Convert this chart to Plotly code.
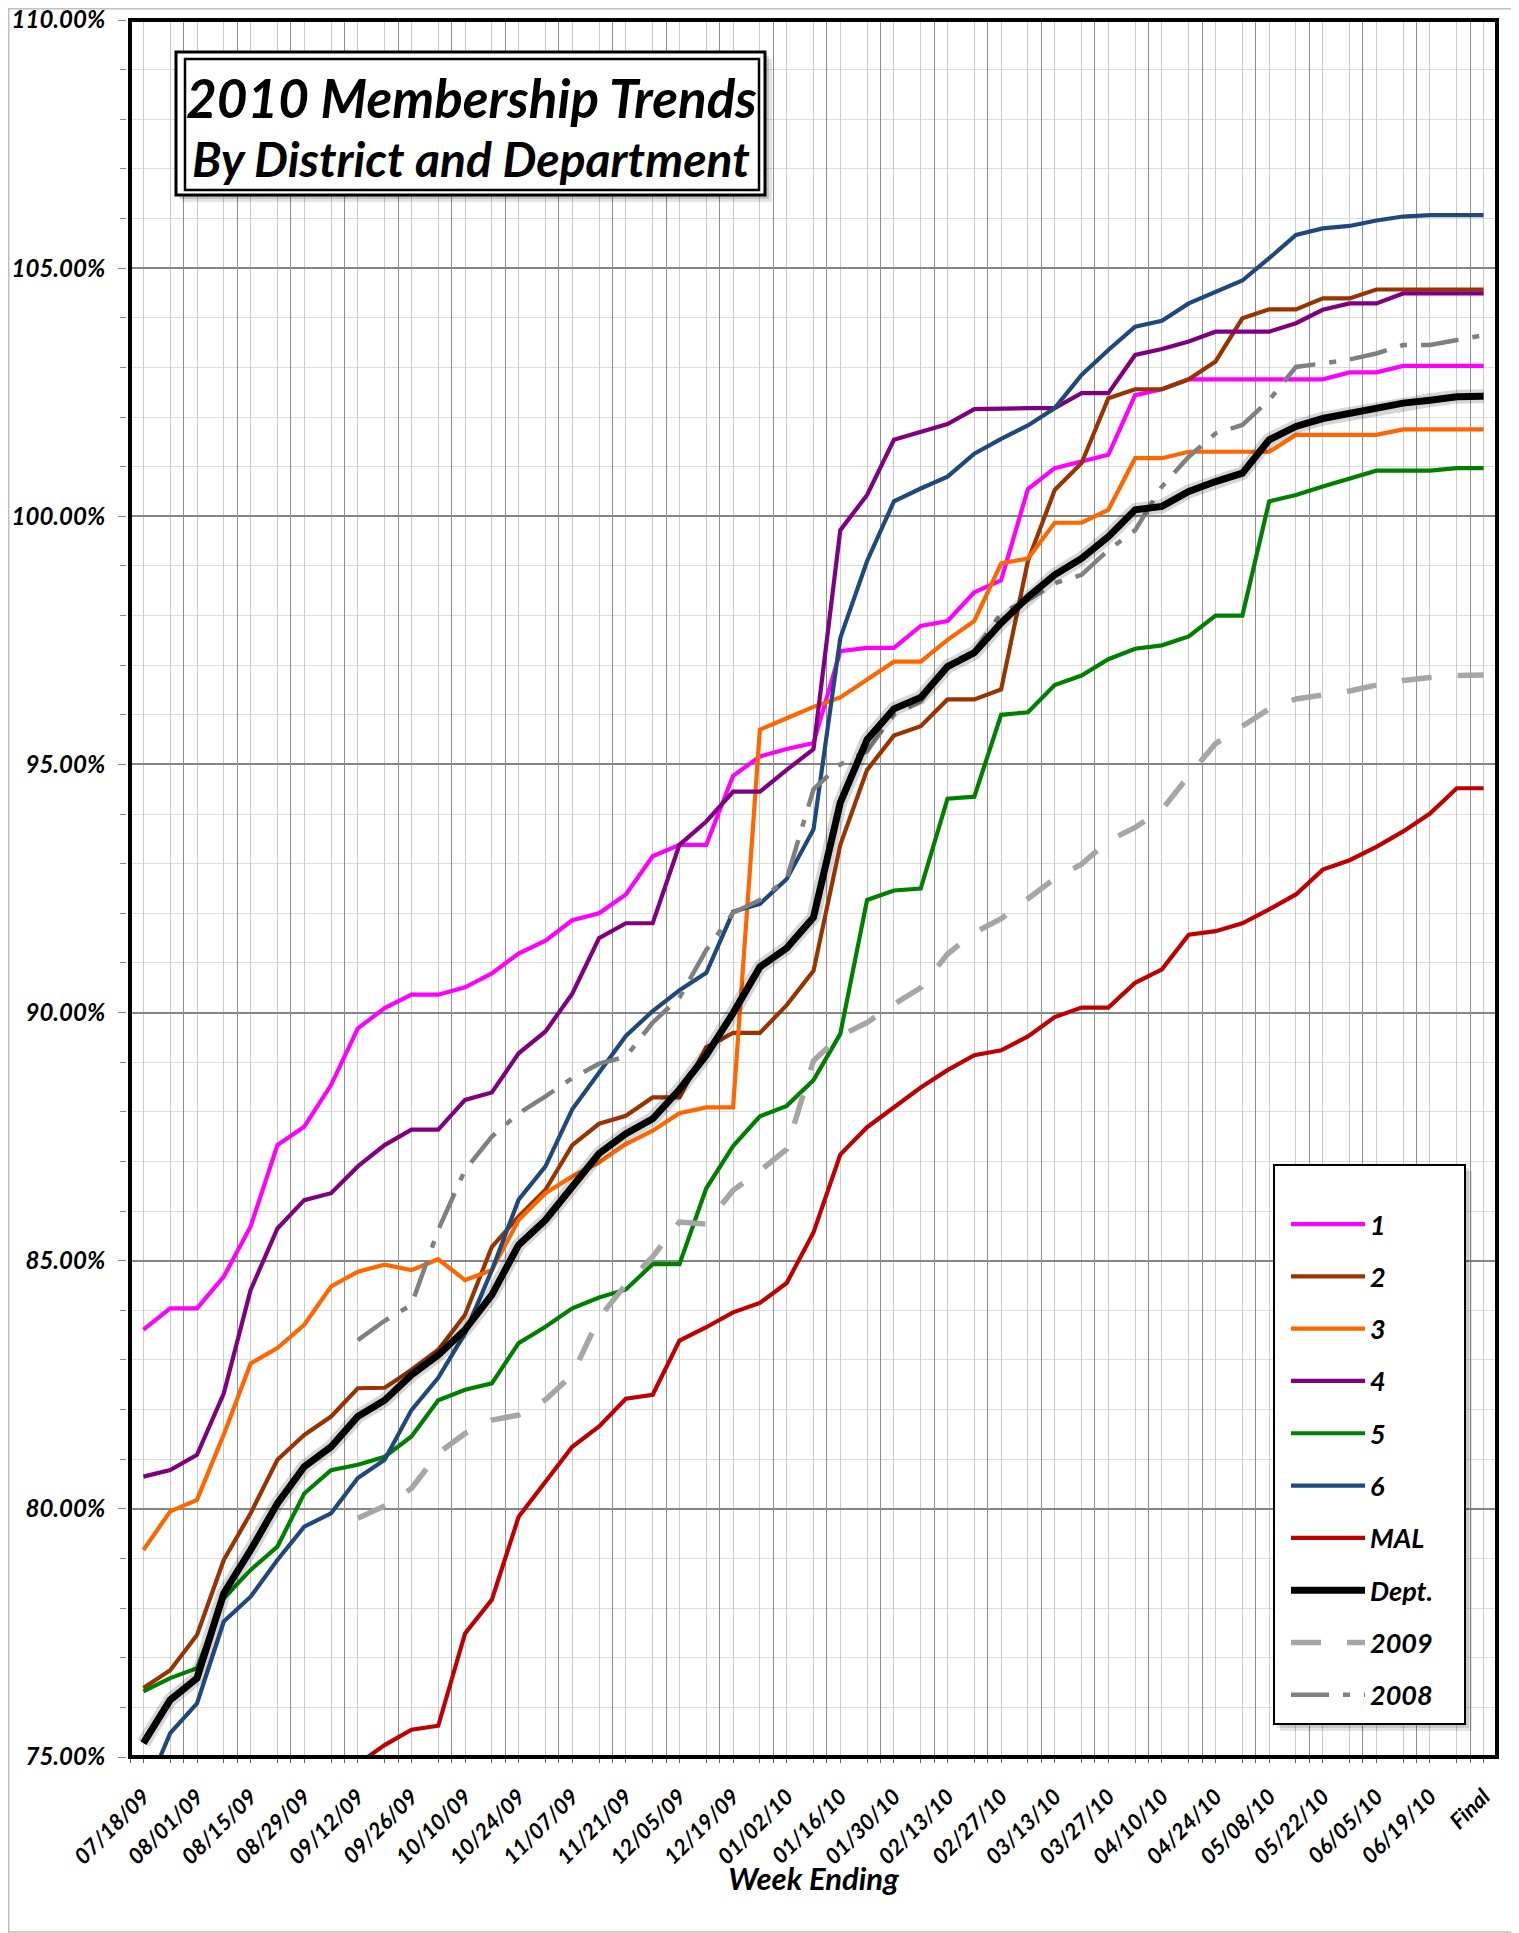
import plotly.graph_objects as go

# ---------------- data ----------------
weeks = ["07/18/09", "07/25/09", "08/01/09", "08/08/09", "08/15/09", "08/22/09", "08/29/09",
         "09/05/09", "09/12/09", "09/19/09", "09/26/09", "10/03/09", "10/10/09", "10/17/09",
         "10/24/09", "10/31/09", "11/07/09", "11/14/09", "11/21/09", "11/28/09", "12/05/09",
         "12/12/09", "12/19/09", "12/26/09", "01/02/10", "01/09/10", "01/16/10", "01/23/10",
         "01/30/10", "02/06/10", "02/13/10", "02/20/10", "02/27/10", "03/06/10", "03/13/10",
         "03/20/10", "03/27/10", "04/03/10", "04/10/10", "04/17/10", "04/24/10", "05/01/10",
         "05/08/10", "05/15/10", "05/22/10", "05/29/10", "06/05/10", "06/12/10", "06/19/10",
         "06/26/10", "Final"]

dist1 = [83.61, 84.04, 84.04, 84.68, 85.69, 87.33, 87.70, 88.54, 89.68, 90.09, 90.36, 90.36, 90.51,
         90.79, 91.19, 91.45, 91.86, 92.00, 92.38, 93.15, 93.38, 93.38, 94.77, 95.16, 95.31, 95.43,
         97.28, 97.35, 97.35, 97.79, 97.89, 98.47, 98.71, 100.55, 100.97, 101.10, 101.24, 102.44,
         102.56, 102.76, 102.76, 102.76, 102.76, 102.76, 102.76, 102.90, 102.90, 103.03, 103.03,
         103.03, 103.03]
dist2 = [76.39, 76.75, 77.46, 78.97, 79.91, 80.99, 81.49, 81.86, 82.43, 82.44, 82.80, 83.20, 83.91,
         85.28, 85.89, 86.43, 87.33, 87.76, 87.92, 88.29, 88.29, 89.30, 89.59, 89.59, 90.15, 90.84,
         93.38, 94.89, 95.58, 95.77, 96.31, 96.31, 96.51, 99.10, 100.53, 101.07, 102.38, 102.56,
         102.56, 102.76, 103.12, 103.99, 104.17, 104.17, 104.39, 104.39, 104.57, 104.57, 104.57,
         104.57, 104.57]
dist3 = [79.17, 79.95, 80.18, 81.50, 82.93, 83.24, 83.71, 84.48, 84.78, 84.92, 84.81, 85.03, 84.61,
         84.81, 85.82, 86.36, 86.70, 86.98, 87.35, 87.62, 87.97, 88.09, 88.09, 95.70, 95.93, 96.16,
         96.35, 96.70, 97.07, 97.07, 97.51, 97.89, 99.05, 99.15, 99.87, 99.87, 100.13, 101.17,
         101.17, 101.30, 101.30, 101.30, 101.30, 101.64, 101.64, 101.64, 101.64, 101.75, 101.75,
         101.75, 101.75]
dist4 = [80.65, 80.78, 81.09, 82.33, 84.41, 85.65, 86.22, 86.36, 86.90, 87.33, 87.64, 87.64, 88.24,
         88.39, 89.18, 89.62, 90.38, 91.50, 91.80, 91.80, 93.38, 93.85, 94.45, 94.45, 94.89, 95.31,
         99.72, 100.43, 101.54, 101.71, 101.86, 102.16, 102.18, 102.18, 102.18, 102.48, 102.48,
         103.25, 103.37, 103.52, 103.72, 103.72, 103.72, 103.89, 104.16, 104.29, 104.29, 104.49,
         104.49, 104.49, 104.49]
dist5 = [76.32, 76.59, 76.79, 78.20, 78.77, 79.24, 80.31, 80.78, 80.89, 81.05, 81.46, 82.19, 82.40,
         82.53, 83.34, 83.67, 84.04, 84.26, 84.42, 84.93, 84.93, 86.46, 87.31, 87.91, 88.12, 88.64,
         89.57, 92.27, 92.46, 92.50, 94.31, 94.35, 96.00, 96.05, 96.60, 96.79, 97.12, 97.33, 97.40,
         97.58, 98.00, 98.00, 100.30, 100.43, 100.60, 100.77, 100.92, 100.92, 100.92, 100.97, 100.97]
dist6 = [74.20, 75.48, 76.08, 77.73, 78.23, 78.97, 79.64, 79.91, 80.62, 80.99, 81.99, 82.64, 83.54,
         84.81, 86.23, 86.90, 88.05, 88.80, 89.53, 90.03, 90.45, 90.80, 92.03, 92.19, 92.69, 93.69,
         97.55, 99.10, 100.30, 100.56, 100.80, 101.26, 101.56, 101.83, 102.18, 102.85, 103.35,
         103.82, 103.94, 104.29, 104.51, 104.75, 105.20, 105.67, 105.80, 105.85, 105.96, 106.04,
         106.07, 106.07, 106.07]
mal = [None, None, None, None, None, None, None, None, 74.86, 75.24, 75.55, 75.63, 77.49, 78.17,
       79.84, 80.55, 81.25, 81.66, 82.22, 82.30, 83.39, 83.66, 83.96, 84.15, 84.55, 85.57, 87.14,
       87.69, 88.10, 88.49, 88.84, 89.14, 89.24, 89.52, 89.91, 90.10, 90.10, 90.60, 90.87, 91.57,
       91.64, 91.80, 92.08, 92.38, 92.88, 93.07, 93.34, 93.65, 94.01, 94.52, 94.52]
dept = [75.28, 76.15, 76.59, 78.30, 79.17, 80.11, 80.85, 81.25, 81.86, 82.19, 82.70, 83.10, 83.61,
        84.31, 85.32, 85.82, 86.49, 87.16, 87.56, 87.86, 88.45, 89.14, 89.99, 90.92, 91.30, 91.92,
        94.23, 95.50, 96.12, 96.35, 96.97, 97.25, 97.85, 98.37, 98.82, 99.15, 99.59, 100.13, 100.20,
        100.50, 100.70, 100.87, 101.54, 101.81, 101.97, 102.08, 102.18, 102.28, 102.34, 102.41,
        102.42]
yr2009 = [None, None, None, None, None, None, None, None, 79.81, 80.06, 80.41, 81.12, 81.52, 81.79,
          81.89, 82.20, 82.70, 83.85, 84.52, 85.08, 85.78, 85.74, 86.42, 86.81, 87.25, 89.03, 89.53,
          89.80, 90.17, 90.50, 91.18, 91.61, 91.89, 92.29, 92.70, 92.99, 93.46, 93.73, 94.09, 94.77,
          95.42, 95.77, 96.12, 96.32, 96.39, 96.48, 96.60, 96.69, 96.75, 96.79, 96.80]
yr2008 = [None, None, None, None, None, None, None, None, 83.40, 83.79, 84.11, 85.62, 86.83, 87.50,
          87.97, 88.31, 88.68, 88.97, 89.11, 89.80, 90.30, 91.26, 92.01, 92.27, 92.69, 94.50, 95.00,
          95.27, 96.01, 96.27, 97.01, 97.28, 98.05, 98.31, 98.65, 98.82, 99.32, 99.72, 100.60,
          101.20, 101.67, 101.84, 102.34, 103.01, 103.08, 103.16, 103.28, 103.45, 103.45, 103.55,
          103.65]

tick_labels = weeks[::2]

# ---------------- layout geometry ----------------
# the page body adds an 8px margin, so the figure is shrunk by that amount
OFF = 8
W, H = 1519 - OFF, 1933 - OFF
L, R, T, B = 130 - OFF, 22, 20 - OFF, 176
PW = W - L - R
PH = H - T - B


def px(x):
    """page x (px) -> paper coordinate"""
    return (x - OFF - L) / PW


def py(y):
    """page y (px) -> paper coordinate"""
    return 1 - (y - OFF - T) / PH


FONT = "Lato"
BI = dict(family=FONT, color="black", weight="bold", style="italic")

fig = go.Figure()

series = [
    ("1", dist1, "#FF00FF", 4.2, "solid", 0),
    ("2", dist2, "#993300", 4.2, "solid", 0),
    ("3", dist3, "#FF6600", 4.2, "solid", 0),
    ("4", dist4, "#800080", 4.2, "solid", 0),
    ("5", dist5, "#008000", 4.2, "solid", 0),
    ("6", dist6, "#1F497D", 4.2, "solid", 0),
    ("MAL", mal, "#C00000", 4.2, "solid", 0),
    ("Dept.", dept, "#000000", 7.0, "solid", 4),
    ("2009", yr2009, "#A6A6A6", 5.5, "30px,26px", 1),
    ("2008", yr2008, "#808080", 4.5, "38px,14px,7px,14px", 1),
]

# soft shadow under the department line
fig.add_trace(go.Scatter(x=weeks, y=dept, mode="lines", showlegend=False, hoverinfo="skip",
                         line=dict(color="rgba(0,0,0,0.16)", width=14), zorder=3))

for rank, (name, vals, color, width, dash, z) in enumerate(series):
    fig.add_trace(go.Scatter(
        x=weeks, y=vals, mode="lines", name=name, legendgroup=name, legendrank=rank + 1,
        line=dict(color=color, width=width, dash=dash), zorder=z,
    ))

# invisible trace that carries the grid axis (and the axis title)
fig.add_trace(go.Scatter(x=[0], y=[None], xaxis="x2", yaxis="y", showlegend=False,
                         hoverinfo="skip", mode="lines"))

shapes = [
    # outer picture border
    dict(type="rect", xref="paper", yref="paper", x0=px(8.75), y0=py(8.75), x1=px(1518), y1=py(1932),
         line=dict(color="#BFBFBF", width=1.5), layer="below"),
    # plot-area frame
    dict(type="rect", xref="paper", yref="paper", x0=0, y0=0, x1=1, y1=1,
         line=dict(color="black", width=4), layer="above"),
    # title box
    dict(type="rect", xref="paper", yref="paper", x0=px(182), y0=py(59), x1=px(772), y1=py(202),
         fillcolor="rgba(0,0,0,0.10)", line=dict(width=0)),
    dict(type="rect", xref="paper", yref="paper", x0=px(179), y0=py(56), x1=px(769), y1=py(199),
         fillcolor="rgba(0,0,0,0.15)", line=dict(width=0)),
    dict(type="rect", xref="paper", yref="paper", x0=px(176), y0=py(52), x1=px(765), y1=py(195),
         fillcolor="white", line=dict(color="black", width=3)),
    dict(type="rect", xref="paper", yref="paper", x0=px(185), y0=py(59), x1=px(759), y1=py(190),
         line=dict(color="black", width=2.5)),
    # legend box
    dict(type="rect", xref="paper", yref="paper", x0=px(1280), y0=py(1171), x1=px(1472), y1=py(1731),
         fillcolor="rgba(0,0,0,0.10)", line=dict(width=0)),
    dict(type="rect", xref="paper", yref="paper", x0=px(1277), y0=py(1168), x1=px(1469), y1=py(1728),
         fillcolor="rgba(0,0,0,0.12)", line=dict(width=0)),
    dict(type="rect", xref="paper", yref="paper", x0=px(1274), y0=py(1165), x1=px(1465), y1=py(1724),
         fillcolor="white", line=dict(color="black", width=2)),
]

annotations = [
    dict(text="2010 Membership Trends", xref="paper", yref="paper", x=px(471), y=py(97),
         xanchor="center", yanchor="middle", showarrow=False, font=dict(size=53, **BI)),
    dict(text="By District and Department", xref="paper", yref="paper", x=px(471), y=py(158),
         xanchor="center", yanchor="middle", showarrow=False, font=dict(size=48, **BI)),
]

fig.update_layout(
    width=W, height=H,
    margin=dict(l=L, r=R, t=T, b=B, pad=0, autoexpand=False),
    paper_bgcolor="white", plot_bgcolor="white",
    font=dict(family=FONT, color="black"),
    showlegend=True,
    legend=dict(x=px(1286), y=py(1200), xanchor="left", yanchor="top",
                bgcolor="rgba(0,0,0,0)", borderwidth=0, itemwidth=74,
                tracegroupgap=14.2, traceorder="grouped",
                font=dict(size=27, **BI)),
    xaxis=dict(type="category", categoryorder="array", categoryarray=weeks,
               range=[-0.5, len(weeks) - 0.5], automargin=False,
               tickmode="array", tickvals=tick_labels, ticktext=tick_labels,
               tickangle=-45, showgrid=False, zeroline=False, ticklabeloverflow="allow",
               ticks="outside", ticklen=14, tickcolor="rgba(0,0,0,0)",
               showline=True, linecolor="black", linewidth=4, mirror=True,
               tickfont=dict(size=22, **BI)),
    xaxis2=dict(overlaying="x", anchor="y", side="bottom", type="linear", automargin=False,
                range=[-0.5, len(weeks) - 0.5], tick0=-0.5, dtick=2,
                showgrid=True, gridcolor="#8E8E8E", gridwidth=1.4,
                minor=dict(dtick=1, showgrid=True, gridcolor="#CACACA", gridwidth=1.3,
                           ticks="outside", ticklen=5, tickcolor="#666666"),
                ticks="outside", ticklen=5, tickcolor="#666666",
                showticklabels=False, zeroline=False, showline=False,
                title=dict(text="Week Ending", font=dict(size=31, **BI), standoff=106)),
    yaxis=dict(range=[75, 110], tick0=75, dtick=5, tickformat=".2f", ticksuffix="%",
               automargin=False, ticklabeloverflow="allow",
               showgrid=True, gridcolor="#858585", gridwidth=1.6, zeroline=False,
               minor=dict(dtick=1, showgrid=True, gridcolor="#DEDEDE", gridwidth=1.3,
                          ticks="outside", ticklen=6, tickcolor="#888888"),
               ticks="outside", ticklen=8, tickcolor="#888888", ticklabelstandoff=8,
               showline=True, linecolor="black", linewidth=4, mirror=True,
               tickfont=dict(size=24, **BI)),
    shapes=shapes,
    annotations=annotations,
)

fig.write_html("out.html")
